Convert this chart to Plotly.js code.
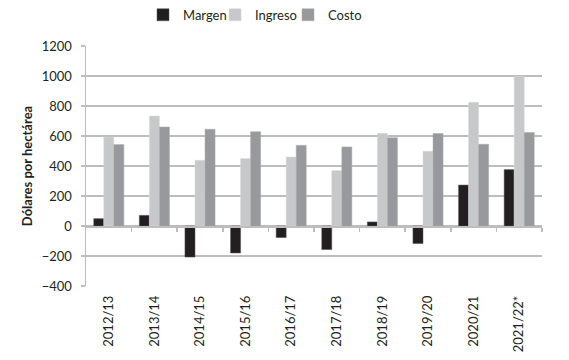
<!DOCTYPE html>
<html>
<head>
<meta charset="utf-8">
<script src="https://cdn.plot.ly/plotly-3.0.1.min.js"></script>
<style>html,body{margin:0;padding:0;background:#fff;}#chart{width:569px;height:360px;}</style>
</head>
<body>
<div id="chart"></div>
<script>
const categories = ["2012/13","2013/14","2014/15","2015/16","2016/17","2017/18","2018/19","2019/20","2020/21","2021/22*"];
const margen  = [49, 71, -207, -180, -77, -157, 27, -117, 273, 376];
const ingreso = [593, 733, 438, 449, 460, 369, 618, 498, 825, 998];
const costo   = [543, 660, 645, 629, 538, 527, 589, 616, 545, 623];
const boundaryTicks = [0.5,1.5,2.5,3.5,4.5,5.5,6.5,7.5,8.5,9.5];

const font = "Lato, 'Open Sans', sans-serif";
const traces = [
  {type:"bar", name:"Margen", legend:"legend", x:categories, y:margen, marker:{color:"#231f20", line:{color:"#555", width:0.5}}},
  {type:"bar", name:"Ingreso", legend:"legend2", x:categories, y:ingreso, marker:{color:"#c7c8ca", line:{color:"#d8d8d8", width:0.5}}},
  {type:"bar", name:"Costo", legend:"legend3", x:categories, y:costo, marker:{color:"#98999c", line:{color:"#aaa", width:0.5}}}
];
const legBase = {orientation:"h", xanchor:"left", y:1.13, yanchor:"middle", font:{size:13}, itemwidth:30, bgcolor:"rgba(0,0,0,0)"};
const layout = {
  width:569, height:360,
  margin:{l:86, r:27, t:46, b:74, autoexpand:false},
  paper_bgcolor:"#fff", plot_bgcolor:"#fff",
  font:{family:font, size:13, color:"#231f20"},
  barmode:"group", bargap:0.34, bargroupgap:0,
  showlegend:true,
  legend:Object.assign({}, legBase, {x:0.125}),
  legend2:Object.assign({}, legBase, {x:0.283}),
  legend3:Object.assign({}, legBase, {x:0.443}),
  xaxis:{type:"category", showgrid:false, zeroline:false, showline:false, ticks:"", tickangle:-90,
         tickfont:{size:13}, ticklabelstandoff:6, fixedrange:true, automargin:false},
  xaxis2:{overlaying:"x", anchor:"free", position:0.25, range:[-0.5,9.5], tickmode:"array", tickvals:boundaryTicks,
          ticks:"outside", ticklen:4, tickcolor:"#bdbdbd", tickwidth:1.5, showticklabels:false,
          showline:true, linecolor:"#bdbdbd", linewidth:1.5, showgrid:false, zeroline:false},
  yaxis:{range:[-400,1200], tickvals:[-400,-200,0,200,400,600,800,1000,1200], ticks:"outside", ticklen:4,
         tickcolor:"#bdbdbd", tickwidth:1.5, showgrid:true, gridcolor:"#bdbdbd", gridwidth:1.5, zeroline:false,
         showline:true, linecolor:"#bdbdbd", linewidth:1.5, tickfont:{size:13}, ticklabelstandoff:6, automargin:false,
         title:{text:"<b>Dólares por hectárea</b>", font:{size:13}, standoff:6}}
};
traces.push({type:"scatter", x:[0], y:[0], xaxis:"x2", mode:"markers", marker:{opacity:0}, showlegend:false, hoverinfo:"skip"});
Plotly.newPlot("chart", traces, layout, {displayModeBar:false, staticPlot:true});
</script>
</body>
</html>
